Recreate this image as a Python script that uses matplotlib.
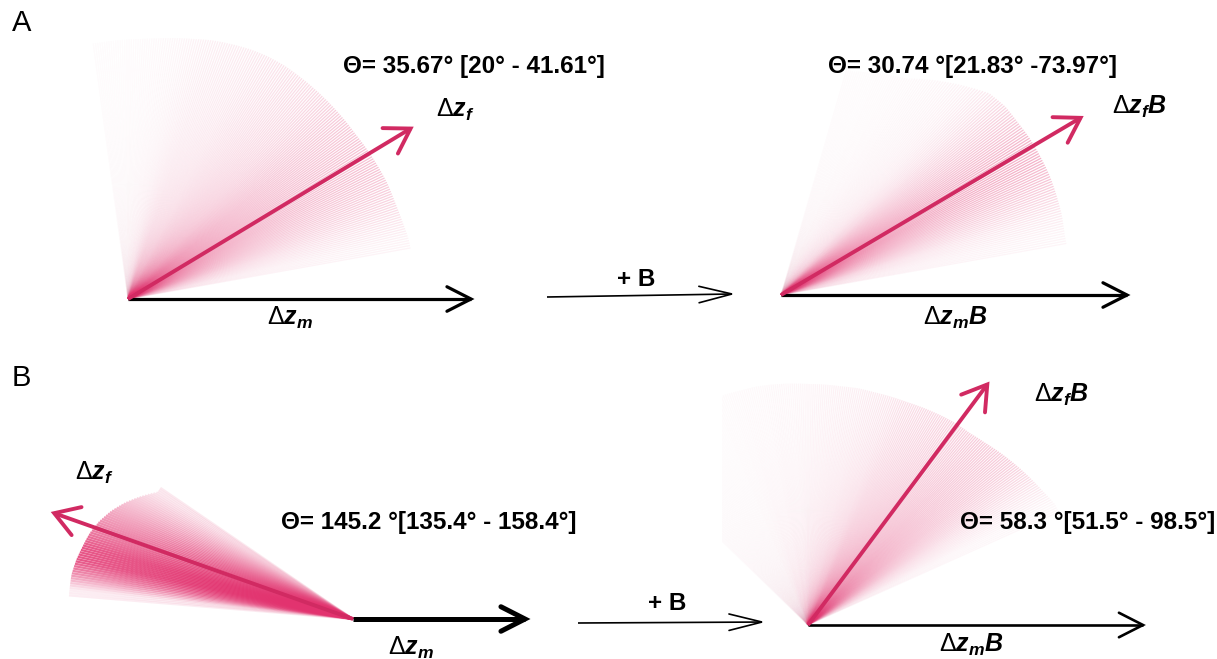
import numpy as np
import matplotlib.pyplot as plt

plt.rcParams['mathtext.fontset'] = 'custom'
plt.rcParams['mathtext.rm'] = 'Liberation Sans'
plt.rcParams['mathtext.bf'] = 'Liberation Sans:bold'
plt.rcParams['mathtext.it'] = 'Liberation Sans:italic'
plt.rcParams['mathtext.bfit'] = 'Liberation Sans:bold:italic'

PINK = '#d12a62'
FAN = '#e2336f'

# angle bins (deg), line intensity and length (px) of the bootstrap fans
fanA1_deg = [12, 16, 20, 24, 28, 32, 36, 40, 44, 48, 52, 56, 60, 64, 68, 72, 76, 80, 84, 88, 92, 96]
fanA1_w = [0.03, 0.06, 0.10, 0.13, 0.15, 0.15, 0.14, 0.13, 0.11, 0.09, 0.08, 0.07, 0.06, 0.05,
           0.045, 0.04, 0.03, 0.02, 0.015, 0.012, 0.01, 0.01]
fanA1_r = [287, 285, 284, 284, 283, 282, 281, 281, 281, 281, 281, 281, 280, 278, 275, 272, 268,
           265, 262, 260, 259, 258]

fanA2_deg = [12, 16, 20, 24, 28, 32, 36, 40, 44, 48, 52, 56, 60, 64, 68, 72]
fanA2_w = [0.025, 0.05, 0.10, 0.15, 0.19, 0.18, 0.14, 0.10, 0.06, 0.035, 0.025, 0.02, 0.015,
           0.012, 0.01, 0.01]
fanA2_r = [290, 292, 293, 294, 294, 294, 293, 293, 290, 280, 270, 260, 250, 245, 240, 235]

fanB1_deg = [147, 150, 153, 156, 159, 162, 165, 168, 171, 174]
fanB1_w = [0.07, 0.13, 0.20, 0.28, 0.36, 0.45, 0.55, 0.55, 0.35, 0.06]
fanB1_r = [233, 245, 256, 265, 272, 277, 280, 283, 285, 285]

fanB2_deg = [26, 30, 34, 38, 42, 46, 50, 54, 58, 62, 66, 70, 74, 78, 82, 86, 90, 94, 98, 102,
             106, 110, 114, 118, 122, 126, 130, 134]
fanB2_w = [0.02, 0.05, 0.09, 0.12, 0.13, 0.13, 0.12, 0.11, 0.10, 0.09, 0.08, 0.06, 0.05, 0.04,
           0.035, 0.03, 0.025, 0.02, 0.02, 0.015, 0.015, 0.012, 0.01, 0.01, 0.01, 0.01, 0.01, 0.01]
fanB2_r = [275, 270, 266, 262, 258, 254, 251, 250, 248, 246, 244, 243, 242, 242, 241, 241, 241,
           242, 243, 244, 244, 245, 245, 245, 245, 245, 245, 245]

# mean vectors: angle (deg) and length (px)
mean_deg = [31.1, 30.6, 160.5, 53.3]
mean_len = [330, 348, 317, 300]
origins = [(128, 299), (781, 295), (353, 619), (808, 625)]
theta_txt = ['Θ= 35.67° [20° - 41.61°]', 'Θ= 30.74 °[21.83° -73.97°]',
             'Θ= 145.2 °[135.4° - 158.4°]', 'Θ= 58.3 °[51.5° - 98.5°]']

fig = plt.figure(figsize=(12.17, 6.59), dpi=100)
ax = fig.add_axes([0, 0, 1, 1])
ax.set_xlim(0, 1217)
ax.set_ylim(659, 0)
ax.axis('off')


def pt(o, ang, r):
    a = np.deg2rad(ang)
    return o[0] + r * np.cos(a), o[1] - r * np.sin(a)


def arrow(o, ang, length, color, lw, head=26, spread=28):
    x1, y1 = pt(o, ang, length)
    ax.plot([o[0], x1], [o[1], y1], color=color, lw=lw, solid_capstyle='butt', zorder=5)
    a1 = pt((x1, y1), ang + 180 + spread, head)
    a2 = pt((x1, y1), ang + 180 - spread, head)
    ax.plot([a1[0], x1, a2[0]], [a1[1], y1, a2[1]], color=color, lw=lw,
            solid_capstyle='round', solid_joinstyle='miter', zorder=5)


def fan(o, degs, ws, rs, width, n=8, lw=0.9, gain=2.0, clip=None):
    # spread each bin over n thin lines, smoothing length / intensity between bins
    step = width / n
    subs = np.arange(degs[0] - width / 2 + step / 2, degs[-1] + width / 2, step)
    for d in subs:
        r = np.interp(d, degs, rs)
        w = np.interp(d, degs, ws)
        x1, y1 = pt(o, d, r)
        ln, = ax.plot([o[0], x1], [o[1], y1], color=FAN, alpha=min(1, w * gain), lw=lw,
                      solid_capstyle='butt', zorder=2)
        if clip is not None:
            ln.set_clip_path(clip)


fan(origins[0], fanA1_deg, fanA1_w, fanA1_r, 4)
fan(origins[1], fanA2_deg, fanA2_w, fanA2_r, 4)
fan(origins[2], fanB1_deg, fanB1_w, fanB1_r, 3, n=6, lw=1.6, gain=1.5)
clipB = plt.Rectangle((722, 300), 500, 359, transform=ax.transData)
fan(origins[3], fanB2_deg, fanB2_w, fanB2_r, 4, clip=clipB)

# black reference vectors
arrow(origins[0], 0, 343, 'black', 2.3, head=27, spread=27)
arrow(origins[1], 0, 346, 'black', 2.3, head=27, spread=27)
arrow(origins[2], 0, 172, 'black', 3.6, head=27, spread=27)
arrow(origins[3], 0, 335, 'black', 1.9, head=27, spread=27)

# pink mean vectors
for o, d, l in zip(origins, mean_deg, mean_len):
    arrow(o, d, l, PINK, 2.8, head=28, spread=32)

# "+ B" transitions
arrow((547, 297), 0.93, 185, 'black', 1.2, head=34, spread=14)
arrow((578, 623), 0.3, 184, 'black', 1.2, head=34, spread=14)
tfont = dict(family='Liberation Sans', fontweight='bold', fontsize=17.5, ha='center', va='center')
ax.text(636, 279, '+ B', **tfont)
ax.text(667, 603, '+ B', **tfont)

# angle annotations
for (x, y), s in zip([(474, 67), (973, 67), (429, 523), (1088, 523)], theta_txt):
    ax.text(x, y, s, **tfont)

lab = dict(fontsize=18, ha='center', va='center')
ax.text(455, 110, r'$\Delta\mathbfit{z}_{\mathbfit{f}}$', **lab)
ax.text(290, 318, r'$\Delta\mathbfit{z}_{\mathbfit{m}}$', **lab)
ax.text(1140, 107, r'$\Delta\mathbfit{z}_{\mathbfit{f}}\mathbfit{B}$', **lab)
ax.text(955, 318, r'$\Delta\mathbfit{z}_{\mathbfit{m}}\mathbfit{B}$', **lab)
ax.text(94, 473, r'$\Delta\mathbfit{z}_{\mathbfit{f}}$', **lab)
ax.text(411, 648, r'$\Delta\mathbfit{z}_{\mathbfit{m}}$', **lab)
ax.text(1062, 395, r'$\Delta\mathbfit{z}_{\mathbfit{f}}\mathbfit{B}$', **lab)
ax.text(971, 645, r'$\Delta\mathbfit{z}_{\mathbfit{m}}\mathbfit{B}$', **lab)

ax.text(12, 23, 'A', family='Liberation Sans', fontsize=21, va='center')
ax.text(12, 378, 'B', family='Liberation Sans', fontsize=21, va='center')

fig.savefig('out.png', dpi=100)
